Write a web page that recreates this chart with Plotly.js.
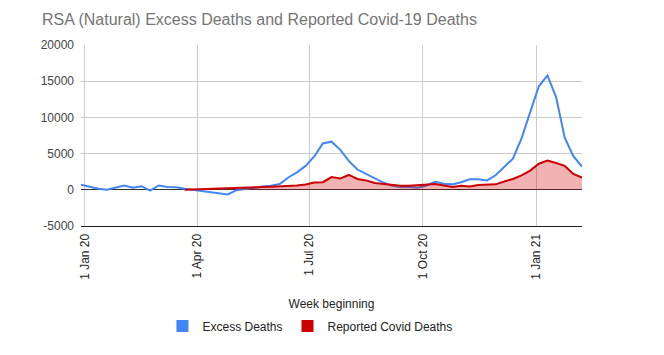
<!DOCTYPE html>
<html>
<head>
<meta charset="utf-8">
<script src="https://cdn.plot.ly/plotly-3.0.1.min.js"></script>
<style>
html,body{margin:0;padding:0;background:#fff;}
#chart{width:664px;height:355px;}
</style>
</head>
<body>
<div id="chart"></div>
<script>
var weeks = [
 "2019-12-29","2020-01-05","2020-01-12","2020-01-19","2020-01-26","2020-02-02","2020-02-09","2020-02-16","2020-02-23","2020-03-01",
 "2020-03-08","2020-03-15","2020-03-22","2020-03-29","2020-04-05","2020-04-12","2020-04-19","2020-04-26","2020-05-03","2020-05-10",
 "2020-05-17","2020-05-24","2020-05-31","2020-06-07","2020-06-14","2020-06-21","2020-06-28","2020-07-05","2020-07-12","2020-07-19",
 "2020-07-26","2020-08-02","2020-08-09","2020-08-16","2020-08-23","2020-08-30","2020-09-06","2020-09-13","2020-09-20","2020-09-27",
 "2020-10-04","2020-10-11","2020-10-18","2020-10-25","2020-11-01","2020-11-08","2020-11-15","2020-11-22","2020-11-29","2020-12-06",
 "2020-12-13","2020-12-20","2020-12-27","2021-01-03","2021-01-10","2021-01-17","2021-01-24","2021-01-31","2021-02-07"
];
var excessDeaths = [
 700,400,150,0,300,600,300,500,-100,600,
 400,350,150,0,-150,-300,-450,-650,-50,150,
 300,450,550,800,1700,2400,3300,4600,6400,6650,
 5550,4000,2800,2200,1500,1000,550,400,400,300,
 600,1100,850,750,1050,1450,1450,1300,2000,3200,
 4300,7100,10800,14300,15800,12800,7200,4650,3200
];
var covidDeaths = [
 null,null,null,null,null,null,null,null,null,null,
 null,null,0,30,60,100,130,170,220,270,
 320,370,420,460,520,600,720,1000,1050,1750,
 1550,2050,1500,1300,950,800,620,550,550,600,
 750,800,600,400,550,450,650,650,750,1150,
 1500,2000,2650,3600,4050,3700,3300,2200,1700
];
var tickDates = ["2020-01-01","2020-04-01","2020-07-01","2020-10-01","2021-01-01"];
var tickLabels = ["1 Jan 20","1 Apr 20","1 Jul 20","1 Oct 20","1 Jan 21"];
var yTicks = [-5000,0,5000,10000,15000,20000];
var yTickLabels = ["-5000","0","5000","10000","15000","20000"];

var blue = "#4285F4", red = "#CC0000";
var traces = [
 {x: weeks, y: excessDeaths, type: "scatter", mode: "lines", name: "Excess Deaths",
  line: {color: blue, width: 2}, showlegend: false},
 {x: weeks, y: covidDeaths, type: "scatter", mode: "lines", name: "Reported Covid Deaths",
  line: {color: red, width: 2}, fill: "tozeroy", fillcolor: "rgba(204,0,0,0.3)",
  showlegend: false, connectgaps: false},
 {x: [null], y: [null], type: "bar", name: "Excess Deaths", marker: {color: blue}},
 {x: [null], y: [null], type: "bar", name: "Reported Covid Deaths", marker: {color: red}}
];
var layout = {
 width: 664, height: 355,
 margin: {l: 81, r: 82, t: 45, b: 129, pad: 0},
 paper_bgcolor: "#fff", plot_bgcolor: "#fff",
 font: {family: "Liberation Sans, Arial, sans-serif", size: 12, color: "#444"},
 title: {text: "RSA (Natural) Excess Deaths and Reported Covid-19 Deaths",
   x: 42/664, xref: "container", xanchor: "left", y: 1 - 19/355, yref: "container", yanchor: "middle",
   font: {family: "Liberation Sans, Arial, sans-serif", size: 16, color: "#757575"}},
 xaxis: {
   type: "date", range: ["2019-12-29", "2021-02-07"],
   tickmode: "array", tickvals: tickDates, ticktext: tickLabels, tickangle: -90,
   showgrid: true, gridcolor: "#cccccc", gridwidth: 1, zeroline: false,
   showline: true, linecolor: "#222222", linewidth: 1,
   ticks: "", ticklabelstandoff: 2, tickfont: {size: 12, color: "#222"},
   title: {text: "Week beginning", font: {size: 12, color: "#222"}, standoff: 20},
   automargin: false, fixedrange: true
 },
 yaxis: {
   range: [-5000, 20000], tickmode: "array", tickvals: yTicks, ticktext: yTickLabels,
   showgrid: true, gridcolor: "#cccccc", gridwidth: 1,
   zeroline: true, zerolinecolor: "#333333", zerolinewidth: 1,
   showline: false, ticks: "", ticklabelstandoff: 6, tickfont: {size: 12, color: "#444"},
   automargin: false, fixedrange: true
 },
 showlegend: true,
 legend: {orientation: "h", x: 0.457, xanchor: "center", xref: "paper",
   y: 1 - 326/355, yref: "container", yanchor: "middle",
   font: {size: 12, color: "#222"}, itemwidth: 30, traceorder: "normal"},
 barmode: "overlay"
};
Plotly.newPlot("chart", traces, layout, {displayModeBar: false, staticPlot: true});
</script>
</body>
</html>
